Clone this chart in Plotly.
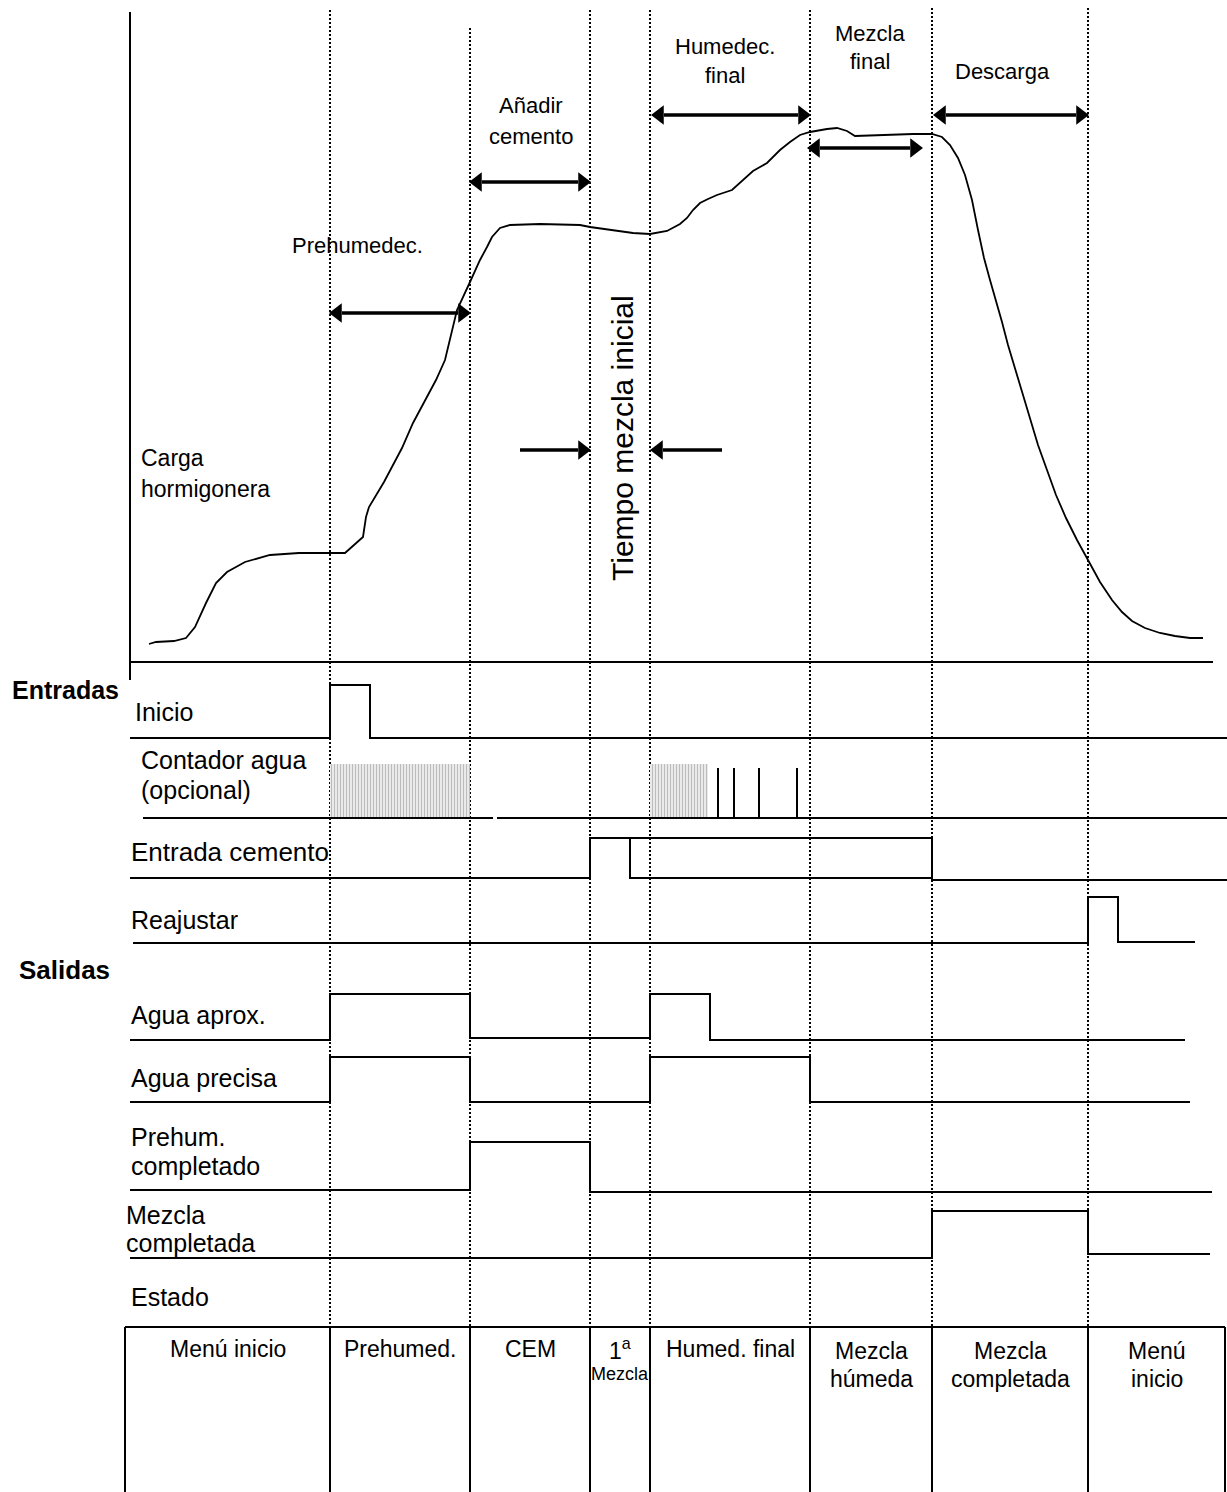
import plotly.graph_objects as go

W, H = 1227, 1492
FONT = "Liberation Sans, Arial, sans-serif"

# ---- phase boundaries (time axis, in drawing units) ----
phase_bounds = [330, 470, 590, 650, 810, 932, 1088]
phase_tops = [10, 28, 10, 10, 10, 8, 8]

# ---- top curve (mixer trace) ----
curve_x = [149, 156, 174, 186, 195, 206, 216, 227, 245, 270, 299, 345, 354, 363, 366, 369,
           384, 402, 413, 427, 436, 445, 450, 457, 470, 480, 487, 492, 500, 510, 540,
           580, 590, 613, 633, 650, 667, 680, 687, 693, 700, 708, 717, 732, 740, 753, 767,
           780, 790, 800, 810, 827, 837, 847, 855, 880, 913, 932, 942, 950, 958, 965, 972,
           978, 984, 990, 996, 1002, 1008, 1015, 1022, 1030, 1038, 1047, 1056, 1066, 1077,
           1088, 1100, 1112, 1122, 1132, 1145, 1160, 1175, 1190, 1203]
curve_y = [644, 642, 641, 638, 627, 603, 583, 572, 562, 555, 553, 553, 545, 537, 517, 507,
           482, 448, 423, 397, 380, 360, 340, 310, 282, 260, 247, 237, 228, 225, 224,
           225, 227, 230, 233, 234, 231, 224, 218, 210, 203, 199, 195, 190, 183, 171, 163,
           150, 142, 135, 132, 129, 128, 131, 136, 135, 134, 134, 137, 145, 158, 175, 200,
           230, 258, 280, 300, 322, 345, 368, 392, 418, 445, 470, 495, 518, 540,
           560, 582, 600, 612, 621, 628, 633, 636, 638, 638]

# ---- digital signals: breakpoints (x) and levels (y) ----
inicio_x = [130, 330, 370, 1227]
inicio_y = [738, 685, 738, 738]
contador_base_x = [[143, 493], [497, 1227]]
contador_base_y = 818
contador_dense = [[330, 470], [650, 708]]
contador_pulses = [718, 734, 759, 797]
contador_top = 764
cemento_x = [130, 590, 932, 1227]
cemento_y = [878, 838, 880, 880]
cemento_box_x = [630, 630, 932]
cemento_box_y = [838, 878, 878]
reaj_x = [133, 1088, 1118, 1195]
reaj_y = [943, 897, 942, 942]
aprox_x = [130, 330, 470, 650, 710, 1185]
aprox_y = [1040, 994, 1038, 994, 1040, 1040]
precisa_x = [130, 330, 470, 650, 810, 1190]
precisa_y = [1102, 1057, 1102, 1057, 1102, 1102]
prehum_x = [130, 470, 590, 1212]
prehum_y = [1190, 1142, 1192, 1192]
mezc_x = [130, 932, 1088, 1210]
mezc_y = [1258, 1211, 1254, 1254]

# ---- state table ----
table_top, table_left, table_right = 1327, 125, 1225
states = ["Menú inicio", "Prehumed.", "CEM", "1<sup>a</sup>", "Humed. final",
          "Mezcla<br>húmeda", "Mezcla<br>completada", "Menú<br>inicio"]

fig = go.Figure()

def line(x, y, width=2, dash=None, shape="linear", color="black"):
    fig.add_trace(go.Scatter(x=x, y=y, mode="lines", line_shape=shape,
                             line=dict(color=color, width=width, dash=dash),
                             hoverinfo="skip", showlegend=False))

HEAD = 15  # arrow head length

def arrow(x0, x1, y, both=True):
    d = 1 if x1 > x0 else -1
    sx0 = x0 + d * (HEAD - 3) if both else x0
    sx1 = x1 - d * (HEAD - 3)
    line([sx0, sx1], [y, y], width=3.5)
    hx = [x1 - d * HEAD / 2]
    sym = ["triangle-right" if d > 0 else "triangle-left"]
    if both:
        hx.append(x0 + d * HEAD / 2)
        sym.append("triangle-left" if d > 0 else "triangle-right")
    fig.add_trace(go.Scatter(x=hx, y=[y] * len(hx), mode="markers",
                             marker=dict(symbol=sym, size=17, color="black",
                                         line=dict(width=0)),
                             hoverinfo="skip", showlegend=False))

# axes of the curve panel
line([130, 130], [12, 680], width=2)
line([130, 1213], [662, 662], width=2)

# dotted phase lines
for xb, yt in zip(phase_bounds, phase_tops):
    line([xb, xb], [yt, table_top], width=2, dash="2px,2px")

# curve
line(curve_x, curve_y, width=1.8)

# hatched water-meter pulses
for x0, x1 in contador_dense:
    fig.add_trace(go.Scatter(x=[x0, x1, x1, x0, x0],
                             y=[contador_top, contador_top, contador_base_y, contador_base_y, contador_top],
                             mode="lines", fill="toself", line=dict(width=0, color="rgba(0,0,0,0)"),
                             fillcolor="white",
                             fillpattern=dict(shape="|", fgcolor="#7a7a7a", bgcolor="white",
                                              size=3, solidity=0.55),
                             hoverinfo="skip", showlegend=False))
for px in contador_pulses:
    line([px, px], [contador_top + 4, contador_base_y + 1], width=2)
for seg in contador_base_x:
    line(seg, [contador_base_y, contador_base_y], width=2)

# signals
line(inicio_x, inicio_y, shape="hv")
line(cemento_x, cemento_y, shape="hv")
line(cemento_box_x, cemento_box_y)
line(reaj_x, reaj_y, shape="hv")
line(aprox_x, aprox_y, shape="hv")
line(precisa_x, precisa_y, shape="hv")
line(prehum_x, prehum_y, shape="hv")
line(mezc_x, mezc_y, shape="hv")

# table
line([table_left, table_right], [table_top, table_top], width=2)
line([table_left, table_left], [table_top, H], width=2)
line([table_right, table_right], [table_top, H], width=2)
for xb in phase_bounds:
    line([xb, xb], [table_top, H], width=2)

# phase arrows
arrow(330, 470, 313)
arrow(470, 590, 182)
arrow(652, 810, 115)
arrow(808, 922, 148)
arrow(934, 1088, 115)
arrow(520, 590, 450, both=False)
arrow(722, 651, 450, both=False)

ann = []

def text(x, y, s, size=22, xanchor="center", bold=False, angle=0):
    ann.append(dict(x=x, y=y, xref="x", yref="y", text=("<b>%s</b>" % s) if bold else s,
                    showarrow=False, xanchor=xanchor, yanchor="middle", textangle=angle,
                    font=dict(family=FONT, size=size, color="black")))

# phase annotations (top)
text(357, 245, "Prehumedec.")
text(531, 105, "Añadir")
text(531, 136, "cemento")
text(725, 46, "Humedec.")
text(725, 75, "final")
text(870, 33, "Mezcla")
text(870, 61, "final")
text(953, 71, "Descarga", xanchor="left")
text(139, 458, "Carga", size=23, xanchor="left")
text(139, 489, "hormigonera", size=23, xanchor="left")
text(622, 438, "Tiempo mezcla inicial", size=30, angle=-90)

# signal labels
text(10, 690, "Entradas", size=25, xanchor="left", bold=True)
text(133, 712, "Inicio", size=25, xanchor="left")
text(139, 760, "Contador agua", size=25, xanchor="left")
text(139, 790, "(opcional)", size=25, xanchor="left")
text(129, 852, "Entrada cemento", size=26, xanchor="left")
text(129, 920, "Reajustar", size=25, xanchor="left")
text(17, 970, "Salidas", size=26, xanchor="left", bold=True)
text(129, 1015, "Agua aprox.", size=25, xanchor="left")
text(129, 1078, "Agua precisa", size=25, xanchor="left")
text(129, 1137, "Prehum.", size=25, xanchor="left")
text(129, 1166, "completado", size=25, xanchor="left")
text(124, 1215, "Mezcla", size=25, xanchor="left")
text(124, 1243, "completada", size=25, xanchor="left")
text(129, 1297, "Estado", size=25, xanchor="left")

# state cells
cell_edges = [table_left] + phase_bounds + [table_right]
for i, s in enumerate(states):
    cx = (cell_edges[i] + cell_edges[i + 1]) / 2
    if "<br>" in s:
        a, b = s.split("<br>")
        text(cx, 1351, a, size=23)
        text(cx, 1379, b, size=23)
    else:
        text(cx, 1349, s, size=23)
text(620, 1374, "Mezcla", size=18)

fig.update_layout(
    width=W, height=H, margin=dict(l=0, r=0, t=0, b=0),
    paper_bgcolor="white", plot_bgcolor="white",
    xaxis=dict(range=[0, W], visible=False, fixedrange=True),
    yaxis=dict(range=[H, 0], visible=False, fixedrange=True),
    annotations=ann, showlegend=False,
)
fig.write_html("out.html", config={"displayModeBar": False, "staticPlot": True},
               post_script="document.body.style.margin='0';document.body.style.padding='0';")
